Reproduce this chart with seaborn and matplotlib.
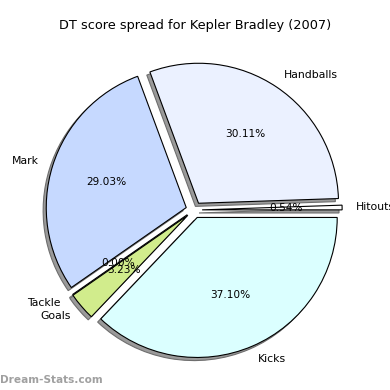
import matplotlib
matplotlib.use("Agg")
import matplotlib.pyplot as plt
import seaborn as sns

sns.set_style("white")
plt.rcParams['font.family'] = ['DejaVu Sans']
plt.rcParams['text.color'] = 'black'

labels = ["Hitouts", "Handballs", "Mark", "Tackle", "Goals", "Kicks"]
values = [1, 56, 54, 0, 6, 69]
colors = ["#ffffff", "#ebf1ff", "#c6d9ff", "#c6d9ff", "#d1ec8c", "#dbffff"]
title = "DT score spread for Kepler Bradley (2007)"

palette = sns.color_palette(colors)

fig = plt.figure(figsize=(3.9, 3.9), dpi=100)
ax = fig.add_axes([0, 0, 1, 1])
wedges, texts, autotexts = ax.pie(
    values, labels=labels, colors=palette, explode=[0.058] * len(values),
    autopct="%1.2f%%", startangle=0, counterclock=True,
    shadow={'ox': -0.016, 'oy': -0.016, 'facecolor': '#9a9a9a', 'edgecolor': '#6e6e6e',
            'alpha': 1.0, 'linewidth': 0.8},
    wedgeprops={'edgecolor': 'black', 'linewidth': 0.8},
    textprops={'fontsize': 7.8, 'color': 'black'},
)
for t in autotexts:
    t.set_fontsize(7.6)
ax.set_xlim(-194 / 140, (390 - 194) / 140)
ax.set_ylim(-(390 - 210) / 140, 210 / 140)
ax.set_aspect('auto')
ax.axis('off')

fig.text(0.5, 1 - 25 / 390, title, ha='center', va='center', fontsize=9.3, color='black')
fig.text(0.0, 1 - 380 / 390, "Dream-Stats.com", ha='left', va='center',
         fontsize=7.6, color='#a0a0a0', fontweight='bold')

fig.savefig("out.png", dpi=100)
